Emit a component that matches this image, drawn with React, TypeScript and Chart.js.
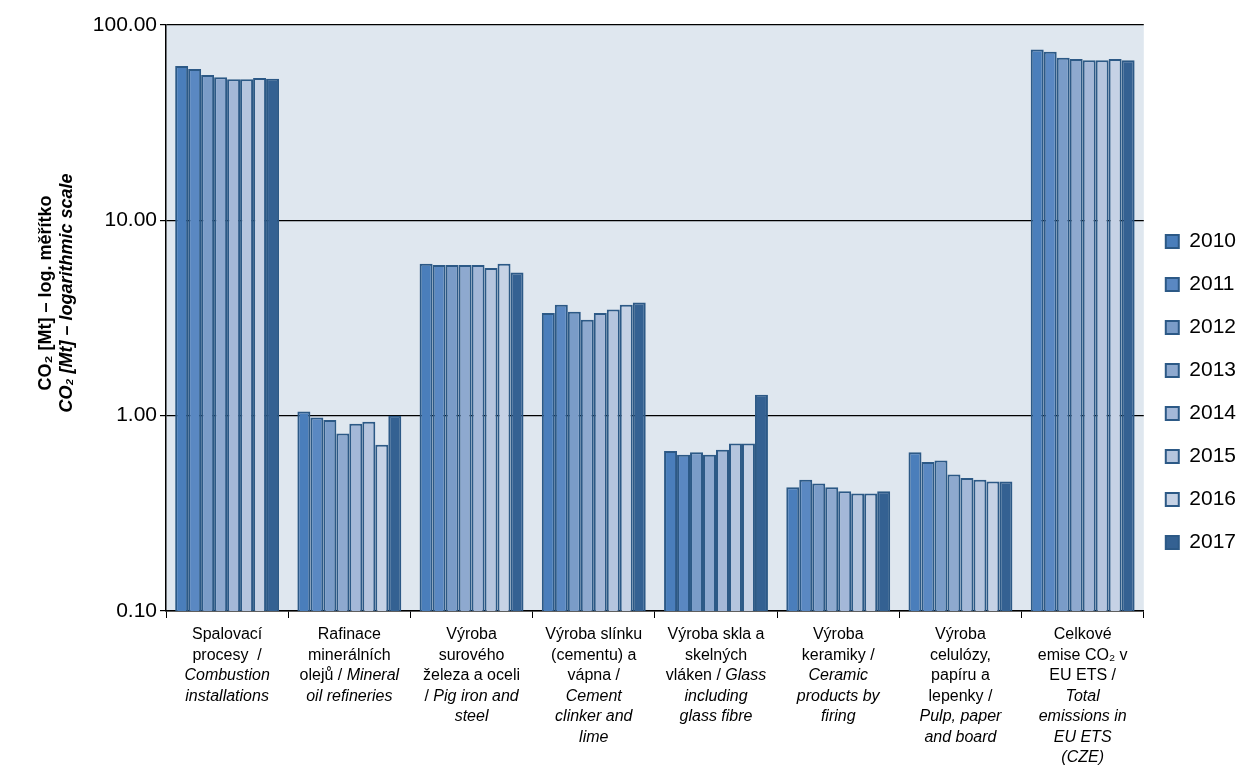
import React, { useEffect, useRef } from "react";
import { Chart, registerables } from "chart.js";

Chart.register(...registerables);

const years = ["2010", "2011", "2012", "2013", "2014", "2015", "2016", "2017"];

// each category label: lines of segments, "*" prefix = italic
const categoryLabels = [
  [["Spalovací"], ["procesy  /"], ["*Combustion"], ["*installations"]],
  [["Rafinace"], ["minerálních"], ["olejů / ", "*Mineral"], ["*oil refineries"]],
  [["Výroba"], ["surového"], ["železa a oceli"], ["/ ", "*Pig iron and"], ["*steel"]],
  [["Výroba slínku"], ["(cementu) a"], ["vápna /"], ["*Cement"], ["*clinker and"], ["*lime"]],
  [["Výroba skla a"], ["skelných"], ["vláken / ", "*Glass"], ["*including"], ["*glass fibre"]],
  [["Výroba"], ["keramiky /"], ["*Ceramic"], ["*products by"], ["*firing"]],
  [["Výroba"], ["celulózy,"], ["papíru a"], ["lepenky /"], ["*Pulp, paper"], ["*and board"]],
  [["Celkové"], ["emise CO₂ v"], ["EU ETS /"], ["*Total"], ["*emissions in"], ["*EU ETS"], ["*(CZE)"]],
];

const combustion = [61.6, 59.6, 55.5, 54, 52.7, 52.7, 53.5, 53];
const refineries = [1.05, 0.98, 0.95, 0.81, 0.91, 0.93, 0.71, 1.0];
const ironSteel = [6.0, 5.9, 5.9, 5.9, 5.9, 5.7, 6.0, 5.4];
const cement = [3.35, 3.7, 3.4, 3.1, 3.35, 3.5, 3.7, 3.8];
const glass = [0.66, 0.63, 0.65, 0.63, 0.67, 0.72, 0.72, 1.28];
const ceramics = [0.43, 0.47, 0.45, 0.43, 0.41, 0.4, 0.4, 0.41];
const pulp = [0.65, 0.58, 0.59, 0.5, 0.48, 0.47, 0.46, 0.46];
const total = [75, 73, 68, 67, 66, 66, 67, 66];

const categories = [combustion, refineries, ironSteel, cement, glass, ceramics, pulp, total];
const yTicks = [0.1, 1, 10, 100];

const colors = ["#4a7ebb", "#5a88c2", "#7a9cc8", "#8ea9cf", "#a4b8d8", "#b5c5de", "#c6d2e5", "#346192"];

const FONT = "Arial, 'Liberation Sans', sans-serif";

const customDraw = {
  id: "customDraw",
  beforeDraw(chart: any) {
    const { ctx, chartArea: a } = chart;
    ctx.save();
    ctx.fillStyle = "#dfe7ef";
    ctx.fillRect(a.left, a.top, a.right - a.left, a.bottom - a.top);
    ctx.restore();
  },
  afterDraw(chart: any) {
    const { ctx, chartArea: a } = chart;
    const xs = chart.scales.x;
    ctx.save();
    ctx.fillStyle = "#000";
    ctx.textBaseline = "top";
    categoryLabels.forEach((lines, i) => {
      const cx = xs.getPixelForValue(i);
      lines.forEach((segs, li) => {
        const parts = segs.map((s) => ({ italic: s.startsWith("*"), text: s.replace(/^\*/, "") }));
        const widths = parts.map((p) => {
          ctx.font = `${p.italic ? "italic " : ""}16px ${FONT}`;
          return ctx.measureText(p.text).width;
        });
        let x = cx - widths.reduce((s, w) => s + w, 0) / 2;
        parts.forEach((p, k) => {
          ctx.font = `${p.italic ? "italic " : ""}16px ${FONT}`;
          ctx.textAlign = "left";
          ctx.fillText(p.text, x, a.bottom + 16 + li * 20.5);
          x += widths[k];
        });
      });
    });
    // y axis title
    const cy = (a.top + a.bottom) / 2 - 25;
    ctx.translate(46, cy);
    ctx.rotate(-Math.PI / 2);
    ctx.textAlign = "center";
    ctx.textBaseline = "middle";
    ctx.font = `bold 18px ${FONT}`;
    ctx.fillText("CO₂ [Mt] – log. měřítko", 0, 0);
    ctx.font = `italic bold 18px ${FONT}`;
    ctx.fillText("CO₂ [Mt] – logarithmic scale", 0, 21);
    ctx.restore();
  },
};

const App: React.FC = () => {
  const canvasRef = useRef<HTMLCanvasElement | null>(null);

  useEffect(() => {
    document.body.style.margin = "0";
    const ctx = canvasRef.current?.getContext("2d");
    if (!ctx) return;
    const chart = new Chart(ctx, {
      type: "bar",
      data: {
        labels: categoryLabels.map((_, i) => String(i)),
        datasets: years.map((y, yi) => ({
          label: y,
          data: categories.map((c) => c[yi]),
          backgroundColor: colors[yi],
          borderColor: "#2c5986",
          borderWidth: 2,
          borderSkipped: "bottom",
          categoryPercentage: 0.85,
          barPercentage: 1,
        })),
      },
      options: {
        responsive: false,
        animation: false,
        layout: { padding: { left: 0, top: 25, right: 0, bottom: 153 } },
        plugins: {
          tooltip: { enabled: false },
          legend: {
            position: "right",
            title: { display: true, text: " ", font: { size: 1 }, padding: { top: 140, bottom: 0 } },
            labels: {
              boxWidth: 13,
              boxHeight: 13,
              padding: 22,
              color: "#000",
              font: { size: 21, family: FONT },
            },
          },
        },
        scales: {
          x: {
            grid: { display: true, drawOnChartArea: false, offset: true, color: "#000", tickLength: 7 },
            border: { color: "#000", width: 1.5 },
            ticks: { display: false },
          },
          y: {
            type: "logarithmic",
            min: 0.1,
            max: 100,
            afterBuildTicks: (s: any) => {
              s.ticks = yTicks.map((v) => ({ value: v }));
            },
            afterFit: (s: any) => {
              s.width = 166;
            },
            grid: { color: "#000", lineWidth: 1.2, drawTicks: true, tickLength: 6 },
            border: { color: "#000", width: 1.5 },
            ticks: {
              color: "#000",
              font: { size: 21, family: FONT },
              callback: (v: any) => Number(v).toFixed(2),
            },
          },
        },
      },
      plugins: [customDraw],
    });
    return () => chart.destroy();
  }, []);

  return <canvas ref={canvasRef} width={1246} height={771} />;
};

export default App;
